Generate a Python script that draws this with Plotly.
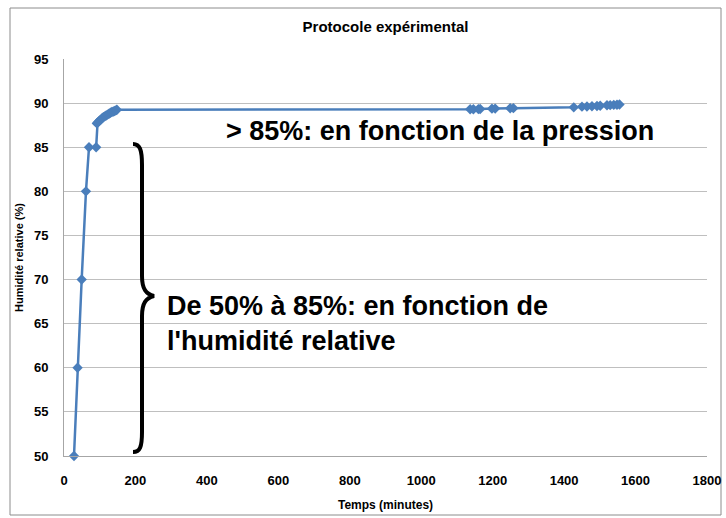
import plotly.graph_objects as go

# ---- data ----
temps_min = [28, 38, 49.5, 61.5, 70, 90, 92, 94, 98, 102, 106, 110, 114, 118, 122,
             126, 130, 134, 138, 142, 146, 148,
             1137, 1146, 1160, 1165, 1198, 1207, 1249, 1258,
             1427, 1450, 1464, 1478, 1492, 1501, 1520, 1529, 1539, 1548, 1555]
humidite = [50, 60, 70, 80, 85, 85, 87.7, 87.8, 87.95, 88.1, 88.25, 88.4, 88.5, 88.6, 88.7,
            88.8, 88.9, 89.0, 89.05, 89.1, 89.2, 89.25,
            89.3, 89.3, 89.32, 89.33, 89.37, 89.38, 89.42, 89.43,
            89.52, 89.6, 89.62, 89.65, 89.67, 89.7, 89.75, 89.77, 89.8, 89.82, 89.85]
x_ticks = [0, 200, 400, 600, 800, 1000, 1200, 1400, 1600, 1800]
y_ticks = [50, 55, 60, 65, 70, 75, 80, 85, 90, 95]

W, H = 726, 518
L, R, T, B = 64, 19, 59, 62
X0, X1 = 0, 1800
Y0, Y1 = 50, 95
PW, PH = W - L - R, H - T - B


def dx(px):
    return X0 + (px - L) / PW * (X1 - X0)


def dy(py):
    return Y1 - (py - T) / PH * (Y1 - Y0)


def P(px, py):
    return f"{dx(px):.3f},{dy(py):.4f}"


FONT = "Liberation Sans, Arial, sans-serif"

fig = go.Figure()
fig.add_trace(go.Scatter(
    x=temps_min, y=humidite, mode="lines+markers",
    line=dict(color="#4A7EBB", width=2.5),
    marker=dict(symbol="diamond", size=8, color="#4A7EBB"),
    showlegend=False, cliponaxis=False,
))

# curly brace
brace = (f"M {P(133,144)} C {P(140,144)} {P(142,150)} {P(142,165)} "
         f"L {P(142,276)} C {P(142,289)} {P(146,294)} {P(154,296)} "
         f"C {P(146,298)} {P(142,303)} {P(142,316)} "
         f"L {P(142,432)} C {P(142,447)} {P(140,452)} {P(133,452)}")
fig.add_shape(type="path", path=brace, xref="x", yref="y",
              line=dict(color="black", width=4))

# outer border
fig.add_shape(type="rect", xref="paper", yref="paper",
              x0=(10 - L) / PW, x1=(721 - L) / PW,
              y0=(H - B - 515) / PH, y1=(H - B - 8) / PH,
              line=dict(color="#8C8C8C", width=1), layer="below")

fig.add_annotation(x=dx(224), y=dy(131), xref="x", yref="y", xanchor="left",
                   text="> 85%: en fonction de la pression", showarrow=False,
                   font=dict(family=FONT, size=27, color="black", weight="bold"))
fig.add_annotation(x=dx(165), y=dy(323), xref="x", yref="y", xanchor="left",
                   align="left",
                   text="De 50% à 85%: en fonction de<br>l'humidité relative", showarrow=False,
                   font=dict(family=FONT, size=27, color="black", weight="bold"))

fig.update_layout(
    width=W, height=H,
    margin=dict(l=L, r=R, t=T, b=B, autoexpand=False),
    paper_bgcolor="white", plot_bgcolor="white",
    title=dict(text="Protocole expérimental", x=(L + PW / 2) / W, xanchor="center",
               y=1 - 27 / H, yanchor="middle",
               font=dict(family=FONT, size=15, color="black", weight="bold")),
    font=dict(family=FONT, color="black"),
)
fig.update_xaxes(range=[X0, X1], tickvals=x_ticks, ticktext=[str(v) for v in x_ticks],
                 showgrid=False, zeroline=False, showline=True, linecolor="#A6A6A6",
                 linewidth=1, ticks="", ticklabelstandoff=12, automargin=False,
                 tickfont=dict(family=FONT, size=13, color="black", weight="bold"),
                 title=dict(text="Temps (minutes)", standoff=14,
                            font=dict(family=FONT, size=12, color="black", weight="bold")))
fig.update_yaxes(range=[Y0, Y1], tickvals=y_ticks, showgrid=True, gridcolor="#BFBFBF",
                 gridwidth=1, zeroline=False, showline=True, linecolor="#A6A6A6",
                 linewidth=1, ticks="", ticklabelstandoff=12, automargin=False,
                 tickfont=dict(family=FONT, size=13, color="black", weight="bold"),
                 title=dict(text="Humidité relative (%)", standoff=8,
                            font=dict(family=FONT, size=11, color="black", weight="bold")))

fig.write_html("out.html", config={"displayModeBar": False},
               post_script="document.body.style.margin='0';document.body.style.padding='0';")
